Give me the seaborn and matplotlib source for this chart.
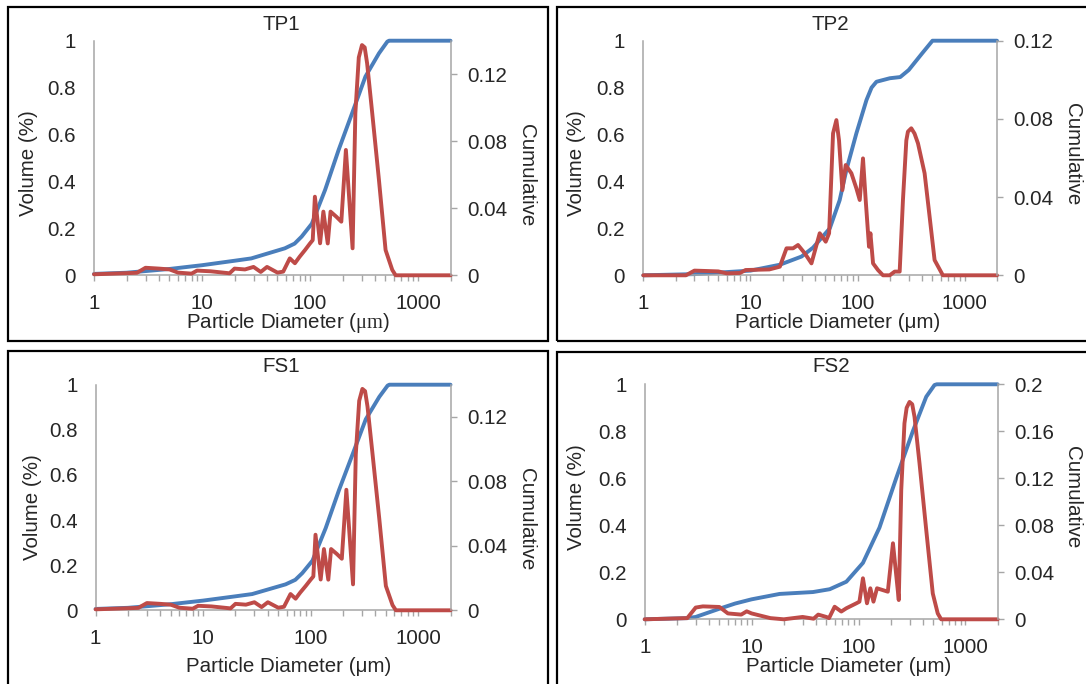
import numpy as np
import pandas as pd
import matplotlib
matplotlib.use("Agg")
import matplotlib.pyplot as plt
import seaborn as sns
from matplotlib.patches import Rectangle
from matplotlib.ticker import LogLocator, NullFormatter, FixedLocator, FixedFormatter

# ---------------- data ----------------
tp1_cum_d = [1, 2, 3, 5, 10, 20, 28.6, 58.5, 72, 83.7, 104, 138, 184, 245, 326, 435, 520, 540, 2000]
tp1_cum_v = [0.006, 0.011, 0.018, 0.027, 0.043, 0.062, 0.072, 0.115, 0.135, 0.165, 0.22, 0.364, 0.534, 0.69,
             0.847, 0.946, 0.996, 1.0, 1.0]
tp1_vol_d = [1, 2.5, 3, 4, 5, 6, 8, 9, 12, 18, 20, 25, 30, 35, 40, 50, 56.5, 65, 72.5, 80, 90, 100, 106, 111,
             124, 133, 146, 155, 175, 195, 215, 248, 263, 283, 303, 321, 338, 377, 435, 501, 578, 621, 2000]
tp1_vol_v = [0.0006, 0.0015, 0.0045, 0.004, 0.0035, 0.0016, 0.001, 0.0028, 0.0024, 0.0012, 0.004, 0.0035, 0.005,
             0.002, 0.005, 0.0016, 0.0022, 0.0101, 0.0072, 0.011, 0.0151, 0.019, 0.021, 0.0469,
             0.0191, 0.038, 0.019, 0.038, 0.035, 0.032, 0.0748, 0.0161, 0.0967, 0.130, 0.1374, 0.136, 0.1265,
             0.0967, 0.0569, 0.0151, 0.0032, 0.0, 0.0]

tp2_cum_d = [1, 3, 10, 18.8, 30, 38.4, 55, 68, 78.6, 97.4, 121, 135, 150, 200, 250, 300, 400, 500, 2000]
tp2_cum_v = [0.0, 0.005, 0.02, 0.045, 0.08, 0.118, 0.2, 0.32, 0.449, 0.605, 0.747, 0.80, 0.825, 0.84, 0.845,
             0.875, 0.946, 1.0, 1.0]
tp2_vol_d = [1, 2.5, 3, 5, 6, 8, 9, 15, 18.8, 21.7, 25, 27.8, 32.1, 37.1, 44.3, 50.4, 54.2, 59, 63.4, 67.1, 72.1,
             77.4, 87.5, 97.4, 104.7, 112.3, 119, 127.8, 131.7, 139.4, 155, 172.6, 199.4, 222, 247, 265, 285,
             295, 317, 340, 366, 422, 470, 523, 625, 2000]
tp2_vol_v = [0.0, 0.0, 0.0024, 0.002, 0.001, 0.0012, 0.0027, 0.003, 0.0044, 0.0138, 0.0138, 0.0155, 0.0113,
             0.0061, 0.0215, 0.0172, 0.0215, 0.0726, 0.0794, 0.069, 0.0436,
             0.0564, 0.0522, 0.0445, 0.0385, 0.0598, 0.0385, 0.0146, 0.0215, 0.0061, 0.0027, 0.0, 0.0, 0.0019,
             0.0019, 0.0385, 0.069, 0.0735, 0.0752, 0.0725, 0.0675, 0.0522, 0.03, 0.0078, 0.0, 0.0]

fs1_cum_d = [1, 2, 3, 5, 10, 20, 28.6, 58.5, 72, 83.7, 104, 138, 184, 245, 326, 435, 520, 540, 2000]
fs1_cum_v = [0.006, 0.011, 0.018, 0.027, 0.043, 0.062, 0.072, 0.115, 0.135, 0.165, 0.22, 0.364, 0.534, 0.69,
             0.847, 0.946, 0.996, 1.0, 1.0]
fs1_vol_d = [1, 2.5, 3, 4, 5, 6, 8, 9, 12, 18, 20, 25, 30, 35, 40, 50, 56.5, 65, 72.5, 80, 90, 100, 106, 111,
             124, 133, 146, 155, 175, 195, 215, 248, 263, 283, 303, 321, 338, 377, 435, 501, 578, 621, 2000]
fs1_vol_v = [0.0006, 0.0015, 0.0045, 0.004, 0.0035, 0.0016, 0.001, 0.0028, 0.0024, 0.0012, 0.004, 0.0035, 0.005,
             0.002, 0.005, 0.0016, 0.0022, 0.0101, 0.0072, 0.011, 0.0151, 0.019, 0.021, 0.0469,
             0.0191, 0.038, 0.019, 0.038, 0.035, 0.032, 0.0748, 0.0161, 0.0967, 0.130, 0.1374, 0.136, 0.1265,
             0.0967, 0.0569, 0.0151, 0.0032, 0.0, 0.0]

fs2_cum_d = [1, 2.5, 3, 5, 7, 10, 18.3, 37.5, 53.8, 77, 110, 157, 225, 322, 430, 514, 540, 2000]
fs2_cum_v = [0.0, 0.005, 0.01, 0.045, 0.067, 0.085, 0.108, 0.116, 0.128, 0.16, 0.24, 0.39, 0.60, 0.80, 0.947,
             0.997, 1.0, 1.0]
fs2_vol_d = [1, 2.5, 3, 3.5, 5, 6, 8, 9, 10, 15, 20, 30, 38, 42, 50, 53, 59.8, 69, 77, 95.4, 102, 110, 120, 129,
             138, 149, 188, 210, 228, 238, 251, 269, 282, 300, 318, 334, 372, 430, 495, 551, 593, 2000]
fs2_vol_v = [0.0, 0.001, 0.01, 0.011, 0.0105, 0.005, 0.004, 0.0068, 0.005, 0.001, 0.0, 0.002, 0.0005, 0.004,
             0.002, 0.001, 0.0107, 0.0066, 0.0094, 0.0136, 0.015, 0.0349, 0.0136, 0.0264,
             0.015, 0.0264, 0.0235, 0.0647, 0.033, 0.0164, 0.110, 0.1668, 0.18, 0.185, 0.183, 0.1724, 0.1328,
             0.076, 0.022, 0.005, 0.0, 0.0]

titles = ["TP1", "TP2", "FS1", "FS2"]
x_titles = ["Particle Diameter ($\\mathrm{\\mu m}$)", "Particle Diameter (μm)",
            "Particle Diameter (μm)", "Particle Diameter (μm)"]
left_ticks = [0, 0.2, 0.4, 0.6, 0.8, 1]
left_labels = ["0", "0.2", "0.4", "0.6", "0.8", "1"]
x_ticks = [1, 10, 100, 1000]
x_labels = ["1", "10", "100", "1000"]
right_max = [0.14, 0.12, 0.14, 0.2]
right_ticks = [[0, 0.04, 0.08, 0.12], [0, 0.04, 0.08, 0.12], [0, 0.04, 0.08, 0.12],
               [0, 0.04, 0.08, 0.12, 0.16, 0.2]]

# ---------------- style ----------------
sns.set_style("white")
plt.rcParams['font.family'] = ['Liberation Sans', 'DejaVu Sans']
plt.rcParams['mathtext.fontset'] = 'custom'
plt.rcParams['mathtext.rm'] = 'Liberation Serif'
plt.rcParams['mathtext.it'] = 'Liberation Serif:italic'
BLUE = "#4A7EBB"
RED = "#BE4B48"
GRAY = "#A6A6A6"
FS = 14.8

W, H = 1086, 684
fig = plt.figure(figsize=(W / 100, H / 100), dpi=100)

# panel geometry in pixels
panels = [
    dict(ax=(94, 40.7, 450.5, 275.3), box=(7.6, 7.3, 547.8, 340.7), title=(281.6, 25), xl=(288.5, 323),
         yl=(28, 163), y2=(526.6, 175)),
    dict(ax=(643.3, 40.7, 997, 275.3), box=(557.4, 7.3, 1095, 340.7), title=(830.7, 25), xl=(838, 323),
         yl=(576, 163), y2=(1073, 154)),
    dict(ax=(95.6, 384.7, 450.5, 610.3), box=(7.6, 351.3, 547.8, 700), title=(281.6, 367), xl=(288.5, 667),
         yl=(33, 507), y2=(526.6, 519)),
    dict(ax=(644.7, 384.3, 997.6, 619.3), box=(557.4, 352, 1095, 700), title=(830.7, 367), xl=(848.6, 667),
         yl=(576, 497), y2=(1073, 497)),
]
cum_data = [(tp1_cum_d, tp1_cum_v), (tp2_cum_d, tp2_cum_v), (fs1_cum_d, fs1_cum_v), (fs2_cum_d, fs2_cum_v)]
vol_data = [(tp1_vol_d, tp1_vol_v), (tp2_vol_d, tp2_vol_v), (fs1_vol_d, fs1_vol_v), (fs2_vol_d, fs2_vol_v)]


def fx(px):
    return px / W


def fy(py):
    return 1 - py / H


for i, p in enumerate(panels):
    l, t, r, b = p["ax"]
    ax = fig.add_axes([fx(l), fy(b), (r - l) / W, (b - t) / H])
    cdf = pd.DataFrame({"d": cum_data[i][0], "v": cum_data[i][1]})
    vdf = pd.DataFrame({"d": vol_data[i][0], "v": vol_data[i][1]})
    sns.lineplot(data=cdf, x="d", y="v", ax=ax, color=BLUE, lw=2.8, estimator=None, sort=False)
    ax.set_xscale("log")
    ax.set_xlim(1, 2000)
    ax.set_ylim(0, 1)
    ax2 = ax.twinx()
    sns.lineplot(data=vdf, x="d", y="v", ax=ax2, color=RED, lw=2.8, estimator=None, sort=False)
    ax2.set_ylim(0, right_max[i])
    ax2.set_xlim(1, 2000)
    for a in (ax, ax2):
        for ln in a.lines:
            ln.set_clip_on(False)
            ln.set_solid_joinstyle("round")
            ln.set_solid_capstyle("round")
        a.set_xlabel("")
        a.set_ylabel("")
        a.set_facecolor("none")
        a.spines["top"].set_visible(False)
        for s in ("left", "right", "bottom"):
            a.spines[s].set_color(GRAY)
            a.spines[s].set_linewidth(1.1)
    ax.spines["right"].set_visible(False)
    ax2.spines["left"].set_visible(False)
    ax2.spines["bottom"].set_visible(False)

    ax.xaxis.set_major_locator(FixedLocator(x_ticks))
    ax.xaxis.set_major_formatter(FixedFormatter(x_labels))
    ax.xaxis.set_minor_locator(LogLocator(base=10, subs=np.arange(2, 10), numticks=20))
    ax.xaxis.set_minor_formatter(NullFormatter())
    ax.tick_params(axis="x", which="both", direction="out", length=4.5, width=1, color=GRAY,
                   labelsize=FS, pad=9, bottom=True)
    ax.set_yticks(left_ticks)
    ax.set_yticklabels(left_labels)
    ax.tick_params(axis="y", which="both", length=0, labelsize=FS, pad=13, left=False)
    ax2.set_yticks(right_ticks[i])
    ax2.set_yticklabels([("0" if v == 0 else f"{v:g}") for v in right_ticks[i]])
    ax2.tick_params(axis="y", which="both", direction="out", length=4, width=1, color=GRAY,
                    labelsize=FS, pad=8, right=True)

    fig.text(fx(p["title"][0]), fy(p["title"][1]), titles[i], ha="center", va="center", fontsize=FS)
    fig.text(fx(p["xl"][0]), fy(p["xl"][1]), x_titles[i], ha="center", va="center", fontsize=FS)
    fig.text(fx(p["yl"][0]), fy(p["yl"][1]), "Volume (%)", ha="center", va="center", fontsize=FS, rotation=90)
    fig.text(fx(p["y2"][0]), fy(p["y2"][1]), "Cumulative", ha="center", va="center", fontsize=FS, rotation=270)

    bl, bt, br, bb = p["box"]
    fig.patches.append(Rectangle((fx(bl), fy(bb)), (br - bl) / W, (bb - bt) / H, transform=fig.transFigure,
                                 fill=False, edgecolor="black", lw=1.6, zorder=10))

fig.savefig("out.png", dpi=100, facecolor="white")
